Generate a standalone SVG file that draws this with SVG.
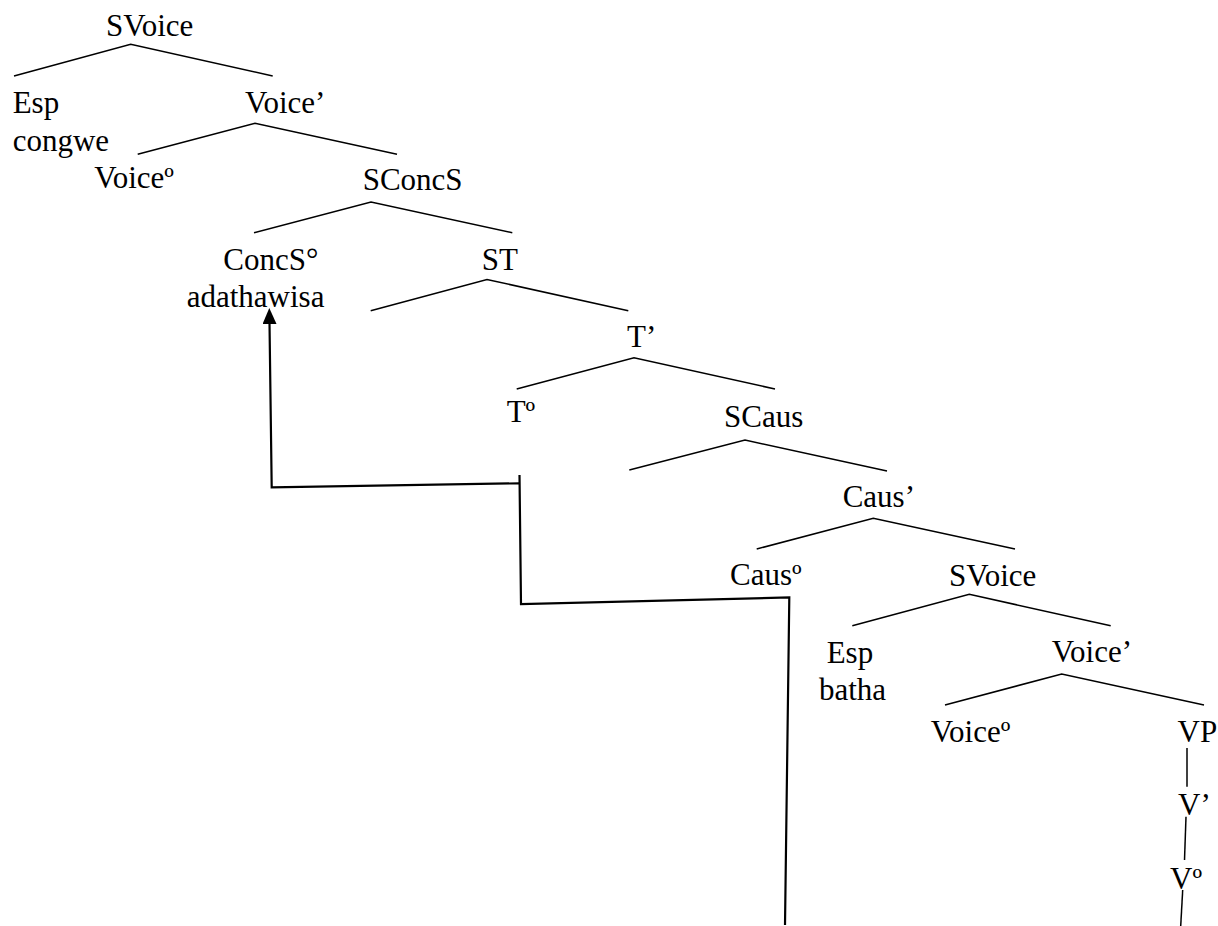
<svg xmlns="http://www.w3.org/2000/svg" width="1218" height="926" viewBox="0 0 1218 926">
  <style>
    .lbl { font-family: 'Liberation Serif', 'Times New Roman', Times, 'DejaVu Serif', serif; font-size: 31px; fill: #000; }
    .branch { fill: none; stroke: #000; stroke-width: 1.5; stroke-linejoin: miter; }
    .move { fill: none; stroke: #000; stroke-width: 2.2; stroke-linejoin: miter; }
  </style>
  <defs>
    <marker id="arrowhead" viewBox="0 0 16 14" refX="9" refY="7" markerWidth="16" markerHeight="14" markerUnits="userSpaceOnUse" orient="auto">
      <path d="M0,0 L16,7 L0,14 z" fill="#000"/>
    </marker>
  </defs>

  <rect width="1218" height="926" fill="#fff"/>

  <!-- tree branches and head-movement path -->
  <g id="connectors">
    <polyline class="branch" points="14,76 130.7,44.3 272.7,76"/>
    <polyline class="branch" points="137.7,154.3 255,123.3 397,154.3"/>
    <polyline class="branch" points="254,232.7 371,202 512.3,232.7"/>
    <polyline class="branch" points="370.7,310.7 487,279.5 628.3,310.7"/>
    <polyline class="branch" points="516.7,389 634,357.7 775,389"/>
    <polyline class="branch" points="629.3,470 745,440 887,471"/>
    <polyline class="branch" points="756.7,549 873.3,518.3 1015,549"/>
    <polyline class="branch" points="852.3,625.7 969.3,594.3 1110.7,625.7"/>
    <polyline class="branch" points="945,705 1061.7,674 1204,705"/>
    <line class="branch" x1="1187" y1="748" x2="1187" y2="786.7"/>
    <line class="branch" x1="1186" y1="816.7" x2="1184.5" y2="860"/>
    <line class="branch" x1="1182.7" y1="890" x2="1180.7" y2="926"/>

    <polyline class="move" points="785,925 789.3,597.5 521,604 519.5,475"/>
    <polyline class="move" points="519.5,483.3 271.7,487.3 269.4,315" marker-end="url(#arrowhead)"/>
  </g>

  <g class="lbl" font-family="Liberation Serif, serif" font-size="31">
    <g id="n-svoice"><text x="106" y="36">SVoice</text></g>
    <g id="n-esp-congwe"><text x="12.7" y="113">Esp</text><text x="12.7" y="151">congwe</text></g>
    <g id="n-voicebar"><text x="245" y="113">Voice’</text></g>
    <g id="n-voicehead"><text x="94.3" y="188">Voiceº</text></g>
    <g id="n-sconcs"><text x="362.7" y="190">SConcS</text></g>
    <g id="n-concs-head"><text x="223.3" y="270">ConcS°</text><text x="186.7" y="306.7">adathawisa</text></g>
    <g id="n-st"><text x="481.7" y="270">ST</text></g>
    <g id="n-tbar"><text x="627" y="347">T’</text></g>
    <g id="n-thead"><text x="506.7" y="422">Tº</text></g>
    <g id="n-scaus"><text x="724" y="427">SCaus</text></g>
    <g id="n-causbar"><text x="842.7" y="507">Caus’</text></g>
    <g id="n-caushead"><text x="730" y="585">Causº</text></g>
    <g id="n-svoice2"><text x="949" y="586">SVoice</text></g>
    <g id="n-esp-batha"><text x="826.7" y="662.7">Esp</text><text x="819" y="700">batha</text></g>
    <g id="n-voicebar2"><text x="1051.7" y="662">Voice’</text></g>
    <g id="n-voicehead2"><text x="930.7" y="741.7">Voiceº</text></g>
    <g id="n-vp"><text x="1177.5" y="741.7">VP</text></g>
    <g id="n-vbar"><text x="1178" y="815">V’</text></g>
    <g id="n-vhead"><text x="1170" y="889">Vº</text></g>
  </g>
</svg>
